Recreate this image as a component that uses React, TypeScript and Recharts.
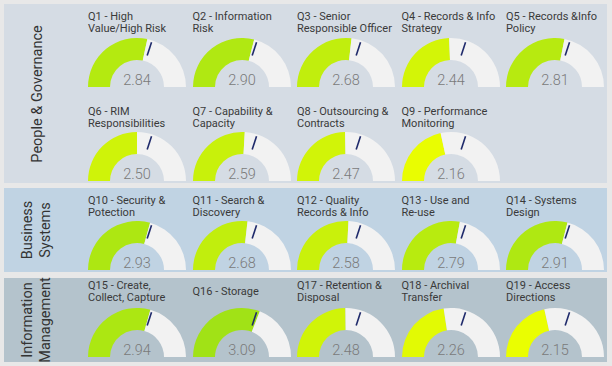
import { Cell, Pie, PieChart } from 'recharts';

// Records management maturity scores — one half-donut gauge per question.

const titles = [
  'Q1 - High\nValue/High Risk',
  'Q2 - Information\nRisk',
  'Q3 - Senior\nResponsible Officer',
  'Q4 - Records & Info\nStrategy',
  'Q5 - Records &Info\nPolicy',
  'Q6 - RIM\nResponsibilities',
  'Q7 - Capability &\nCapacity',
  'Q8 - Outsourcing &\nContracts',
  'Q9 - Performance\nMonitoring',
  'Q10 - Security &\nPotection',
  'Q11 - Search &\nDiscovery',
  'Q12 - Quality\nRecords & Info',
  'Q13 - Use and\nRe-use',
  'Q14 - Systems\nDesign',
  'Q15 - Create,\nCollect, Capture',
  'Q16 - Storage',
  'Q17 - Retention &\nDisposal',
  'Q18 - Archival\nTransfer',
  'Q19 - Access\nDirections',
];

const scores = [
  2.84, 2.9, 2.68, 2.44, 2.81, 2.5, 2.59, 2.47, 2.16, 2.93, 2.68, 2.58, 2.79,
  2.91, 2.94, 3.09, 2.48, 2.26, 2.15,
];

const target = 3;
const scaleMax = 5;

const sections = ['People & Governance', 'Business\nSystems', 'Information\nManagement'];

// panel boxes + gauge rows (layout only)
const panels = [
  { top: 4, bottom: 183, bg: '#d5dce4' },
  { top: 188, bottom: 272, bg: '#c0d3e3' },
  { top: 278, bottom: 362, bg: '#b4c3cc' },
];
const rows = [
  { titleTop: 11, cy: 87, items: [0, 1, 2, 3, 4] },
  { titleTop: 106, cy: 181, items: [5, 6, 7, 8] },
  { titleTop: 195, cy: 270, items: [9, 10, 11, 12, 13] },
  { titleTop: 280, cy: 357, items: [14, 15, 16, 17, 18] },
];
const colLeft = [88, 192.5, 297, 401.5, 506];

const OUTER = 49;
const INNER = 27;
const RAD = Math.PI / 180;
const FONT = 'Roboto, "DejaVu Sans", sans-serif';

// conditional colour: yellow for low scores, green toward the target
function gaugeColor(v: number) {
  const t = Math.max(0, Math.min(1, (v - 2.1) / 1.0));
  const from = [238, 255, 0];
  const to = [160, 226, 22];
  const c = from.map((f, i) => Math.round(f + (to[i] - f) * t));
  return `rgb(${c[0]},${c[1]},${c[2]})`;
}

function Gauge({ idx, left, cy, titleTop }: { idx: number; left: number; cy: number; titleTop: number }) {
  const v = scores[idx];
  const valueData = [
    { name: 'score', value: v },
    { name: 'rest', value: scaleMax - v },
  ];
  const targetData = [
    { name: 'target', value: target },
    { name: 'beyond', value: scaleMax - target },
  ];

  // label of the first target slice: draws the target tick at its end angle + the score
  const renderTick = (p: any) => {
    if (p.index !== 0) return null;
    const a = -p.endAngle * RAD;
    const r1 = p.innerRadius + 6;
    const r2 = p.outerRadius - 2;
    return (
      <g>
        <line
          x1={p.cx + r1 * Math.cos(a)}
          y1={p.cy + r1 * Math.sin(a)}
          x2={p.cx + r2 * Math.cos(a)}
          y2={p.cy + r2 * Math.sin(a)}
          stroke="#1f2a6b"
          strokeWidth={1.6}
        />
        <text
          x={p.cx}
          y={p.cy - 2}
          textAnchor="middle"
          fill="#7a7a7a"
          fontSize={14.5}
          fontWeight={300}
          fontFamily={FONT}
        >
          {v.toFixed(2)}
        </text>
      </g>
    );
  };

  const lines = titles[idx].split('\n');
  return (
    <>
      <div
        style={{
          position: 'absolute',
          left,
          top: titleTop,
          height: 24,
          display: 'flex',
          flexDirection: 'column',
          justifyContent: 'center',
          fontFamily: FONT,
          fontSize: 11,
          lineHeight: '12px',
          color: '#3a3a3a',
          whiteSpace: 'nowrap',
        }}
      >
        {lines.map((l) => (
          <div key={l}>{l}</div>
        ))}
      </div>
      <div style={{ position: 'absolute', left: left - 1, top: cy - 51 }}>
        <PieChart width={100} height={52} margin={{ top: 0, right: 0, bottom: 0, left: 0 }}>
          <Pie
            data={valueData}
            dataKey="value"
            cx={50}
            cy={51}
            startAngle={180}
            endAngle={0}
            innerRadius={INNER}
            outerRadius={OUTER}
            stroke="none"
            isAnimationActive={false}
          >
            <Cell fill={gaugeColor(v)} />
            <Cell fill="#f2f2f2" />
          </Pie>
          <Pie
            data={targetData}
            dataKey="value"
            cx={50}
            cy={51}
            startAngle={180}
            endAngle={0}
            innerRadius={INNER}
            outerRadius={OUTER}
            fill="none"
            stroke="none"
            label={renderTick}
            labelLine={false}
            isAnimationActive={false}
          />
        </PieChart>
      </div>
    </>
  );
}

export default function App() {
  return (
    <div
      style={{
        position: 'absolute',
        left: 0,
        top: 0,
        width: 612,
        height: 366,
        background: '#e8e8e8',
        overflow: 'hidden',
        fontFamily: FONT,
      }}
    >
      {panels.map((p, i) => {
        const h = p.bottom - p.top;
        const lines = sections[i].split('\n');
        return (
          <div
            key={i}
            style={{
              position: 'absolute',
              left: 4,
              top: p.top,
              width: 603,
              height: h,
              background: p.bg,
            }}
          >
            <div
              style={{
                position: 'absolute',
                left: 37 - h / 2 - 4,
                top: h / 2 - 20,
                width: h,
                height: 40,
                transform: 'rotate(-90deg)',
                display: 'flex',
                flexDirection: 'column',
                justifyContent: 'center',
                alignItems: 'center',
                fontSize: 14.5,
                lineHeight: '18px',
                color: '#333',
                whiteSpace: 'nowrap',
              }}
            >
              {lines.map((l) => (
                <div key={l}>{l}</div>
              ))}
            </div>
          </div>
        );
      })}
      {rows.map((r) =>
        r.items.map((idx, c) => (
          <Gauge key={idx} idx={idx} left={colLeft[c]} cy={r.cy} titleTop={r.titleTop} />
        )),
      )}
    </div>
  );
}
